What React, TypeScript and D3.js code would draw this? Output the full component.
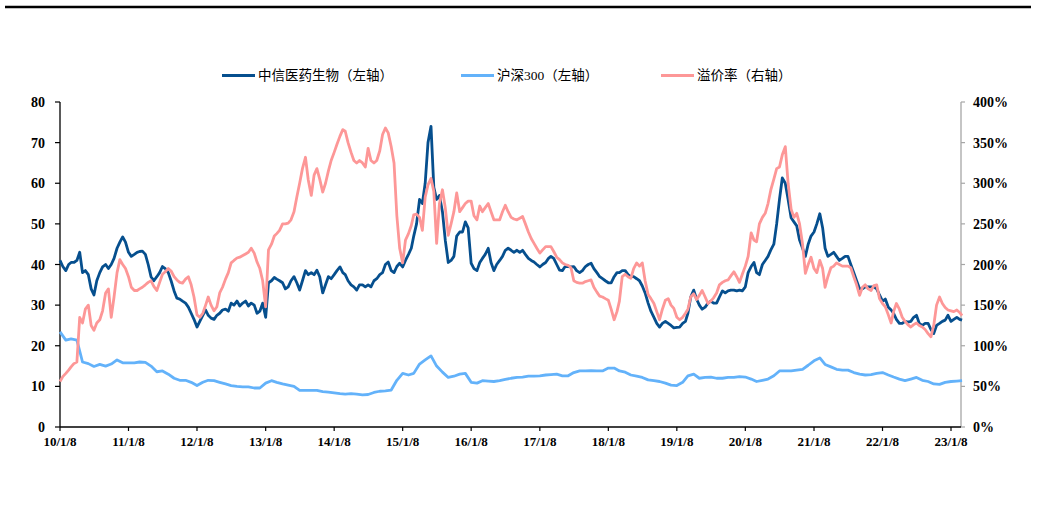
import React from "react";
import * as d3 from "d3";

const W = 1037;
const H = 507;

// x-axis tick labels (Jan 8 each year)
const xTickLabels = ["10/1/8","11/1/8","12/1/8","13/1/8","14/1/8","15/1/8","16/1/8","17/1/8","18/1/8","19/1/8","20/1/8","21/1/8","22/1/8","23/1/8"];
const leftTicks = [0, 10, 20, 30, 40, 50, 60, 70, 80];
const rightTicks = [0, 50, 100, 150, 200, 250, 300, 350, 400];

// 中信医药生物: twice a month (8th, 23rd), Jan 2010 .. Mar 2023
const medValues = [
  41, 39.5, 38.5, 40, 40.5, 40.5, 41, 43, 38, 38.5, 37.5, 34, 32.5, 36, 38, 39.4, 40, 39, 40, 41.5, 44, 45.5, 46.8, 45.5,
  43, 42, 42.5, 43, 43.2, 43.3, 42.5, 40, 37, 36, 37, 38, 39.5, 39, 38, 36, 33.5, 31.7, 31.5, 31, 30.5, 29.5, 28, 26.5,
  24.6, 26, 27.5, 28.8, 27.5, 26.8, 26.5, 27.5, 28, 28.8, 29, 28.5, 30.5, 30, 31, 29.8, 30.5, 31, 29.8, 30.5, 30, 28, 28.5, 30.5,
  27, 35.5, 36, 36.8, 36.4, 36, 35.5, 34, 34.5, 36, 37, 35.5, 33.7, 36, 38.5, 37.5, 38, 37.5, 38.6, 37, 33, 35, 37, 36.5,
  37.5, 38.5, 39.4, 38, 37.5, 36, 35, 34.5, 33.7, 35, 35, 34.5, 35, 34.5, 36, 36.5, 37.5, 38, 40, 40.6, 38.5, 38, 39.5, 40.3,
  39.4, 41, 42.5, 44, 47, 50, 56, 55, 60, 70, 74, 59, 56, 57, 53, 46, 40.5, 41, 42, 47, 48, 48, 50.5, 49,
  40.3, 39, 38.5, 40.5, 41.5, 42.5, 44, 40.5, 38.5, 40, 41, 42, 43.5, 44, 43.5, 43, 43.5, 43, 43.5, 42.5, 41.5, 41, 40.6, 40,
  39.4, 40, 40.5, 41.5, 42, 41.5, 40, 38.6, 38.5, 39.5, 39.5, 39.4, 39.5, 38.5, 38, 38.5, 39.5, 40, 40.3, 39, 38, 37, 36.5, 36,
  35.5, 35.5, 37, 38, 38, 38.5, 38.5, 37.5, 37, 37, 36.5, 36, 34.7, 33, 30.5, 28.5, 27, 25.5, 24.6, 25.5, 26, 25.5, 25, 24.4,
  24.5, 24.6, 25.5, 26, 28, 32, 33.7, 31.5, 30, 29, 29.5, 30.5, 31, 30.5, 30.5, 32, 33.5, 33, 33.5, 33.7, 33.7, 33.5, 33.7, 33.5,
  34.5, 38, 39.5, 40.5, 38, 37.5, 40, 41, 42, 43.6, 45, 50, 56, 61.3, 60, 56, 51.5, 50.5, 49.5, 46, 44, 42, 45, 47,
  48, 50, 52.5, 49, 44, 42, 42.5, 43, 42, 41, 41.5, 42, 42, 40, 38, 36, 34, 34, 34.5, 34.5, 34.5, 34.5, 34, 32.5,
  31, 31.5, 29.5, 28.8, 28, 26.5, 25.5, 25.5, 26, 25.8, 26, 27, 27.5, 25.5, 25, 25.5, 25.5, 24, 23, 25, 25.5, 26, 26.3, 27.5,
  26, 26.5, 27, 26.5, 26.3,
];

// 溢价率 (%): twice a month (8th, 23rd), Jan 2010 .. Mar 2023
const premiumValues = [
  56, 62, 66, 70, 74, 78, 80, 135, 128, 145, 150, 125, 119, 128, 132, 143, 165, 170, 135, 160, 190, 206, 200, 195,
  185, 172, 168, 168, 170, 172, 175, 178, 180, 173, 168, 178, 188, 191, 195, 192, 185, 181, 178, 177, 182, 185, 175, 160,
  138, 135, 140, 150, 160, 150, 143, 148, 165, 172, 182, 190, 202, 205, 208, 209, 211, 213, 215, 220, 214, 203, 195, 180,
  148, 218, 225, 235, 238, 242, 250, 250, 251, 255, 265, 283, 300, 318, 332, 304, 285, 310, 318, 305, 289, 300, 315, 328,
  338, 348, 358, 366, 364, 350, 338, 328, 325, 328, 325, 320, 343, 328, 325, 328, 340, 360, 368, 362, 345, 325, 260, 220,
  202, 230, 238, 248, 261, 262, 258, 242, 283, 298, 306, 290, 226, 275, 292, 270, 236, 250, 265, 288, 265, 270, 275, 278,
  278, 260, 255, 272, 265, 270, 275, 265, 255, 255, 255, 265, 273, 265, 258, 256, 255, 257, 259, 250, 240, 232, 226, 220,
  214, 218, 222, 222, 222, 216, 209, 206, 202, 200, 199, 196, 180, 178, 177, 177, 179, 180, 181, 172, 166, 161, 160, 158,
  156, 145, 132, 142, 155, 185, 188, 185, 183, 195, 202, 198, 202, 180, 163, 158, 152, 142, 132, 145, 156, 158, 150, 146,
  135, 132, 135, 140, 145, 160, 164, 157, 162, 168, 160, 152, 155, 159, 165, 175, 178, 180, 181, 186, 191, 185, 178, 188,
  198, 210, 239, 230, 228, 250, 258, 263, 275, 292, 305, 318, 320, 335, 345, 300, 268, 258, 263, 250, 225, 189, 200, 209,
  195, 190, 205, 195, 172, 185, 196, 198, 202, 200, 198, 198, 198, 196, 185, 175, 162, 172, 175, 170, 168, 174, 175, 158,
  152, 148, 138, 128, 142, 152, 145, 135, 130, 126, 123, 126, 128, 125, 123, 120, 115, 111, 125, 150, 160, 152, 147, 144,
  143, 142, 144, 141, 137,
];

// 沪深300: monthly (8th), Jan 2010 .. Mar 2023
const hs300Values = [
  23.4, 21.4, 21.7, 21.4, 16, 15.6, 14.9, 15.4, 15, 15.5, 16.5, 15.8,
  15.8, 15.8, 16, 15.9, 15, 13.6, 13.8, 13, 12, 11.5, 11.5, 11,
  10.2, 11, 11.5, 11.4, 11, 10.6, 10.2, 10, 9.9, 9.9, 9.6, 9.6,
  10.8, 11.4, 11, 10.6, 10.3, 10, 9, 9, 9, 9, 8.7, 8.6,
  8.4, 8.2, 8.1, 8.2, 8.1, 7.9, 8, 8.5, 8.8, 8.9, 9.1, 11.5,
  13.2, 12.8, 13.2, 15.5, 16.5, 17.5, 15, 13.5, 12.2, 12.5, 13, 13.2,
  11, 10.8, 11.4, 11.3, 11.2, 11.4, 11.7, 12, 12.2, 12.3, 12.5, 12.5,
  12.6, 12.8, 12.9, 13, 12.6, 12.6, 13.4, 13.8, 13.8, 13.9, 13.8, 13.8,
  14.5, 14.5, 13.8, 13.5, 12.8, 12.5, 12.2, 11.6, 11.4, 11.2, 10.8, 10.3,
  10.2, 11, 12.6, 13, 12, 12.2, 12.3, 12, 12, 12.2, 12.2, 12.4,
  12.3, 11.8, 11.2, 11.5, 11.8, 12.6, 13.8, 13.8, 13.8, 14, 14.2, 15.2,
  16.3, 17, 15.4, 14.8, 14.2, 14, 14, 13.4, 13, 12.8, 12.9, 13.2,
  13.4, 12.8, 12.3, 11.8, 11.4, 11.8, 12.2, 11.5, 11.2, 10.6, 10.5, 11,
  11.2, 11.3, 11.4,
];

const seriesNames = ["中信医药生物（左轴）", "沪深300（左轴）", "溢价率（右轴）"];
const seriesColors = ["#064f8e", "#63b2fa", "#fd9797"];

const halfMonthDates = medValues.map((_, i) => new Date(2010, Math.floor(i / 2), i % 2 === 0 ? 8 : 23));
const monthDates = hs300Values.map((_, i) => new Date(2010, i, 8));

export default function App() {
  const x = d3.scaleTime().domain([new Date(2010, 0, 8), new Date(2023, 0, 8)]).range([60, 951]);
  const yL = d3.scaleLinear().domain([0, 80]).range([427, 102]);
  const yR = d3.scaleLinear().domain([0, 400]).range([427, 102]);
  const tickDates = xTickLabels.map((_, i) => new Date(2010 + i, 0, 8));

  const lineMed = d3.line<number>().x((_, i) => x(halfMonthDates[i])).y((d) => yL(d));
  const lineHs = d3.line<number>().x((_, i) => x(monthDates[i])).y((d) => yL(d));
  const linePrem = d3.line<number>().x((_, i) => x(halfMonthDates[i])).y((d) => yR(d));

  const serif = "'Liberation Serif', 'Times New Roman', serif";
  const legendFont = "'Liberation Serif', 'Noto Sans CJK SC', serif";
  const legendX = [222, 461, 661];

  return (
    <svg width={W} height={H} style={{ position: "absolute", left: 0, top: 0, background: "#fff" }}>
      <rect x={0} y={0} width={W} height={H} fill="#fff" />
      <line x1={5} x2={1031} y1={7} y2={7} stroke="#000" strokeWidth={2.5} />

      {/* legend */}
      {seriesNames.map((name, i) => (
        <g key={name}>
          <line x1={legendX[i]} x2={legendX[i] + 33} y1={75.5} y2={75.5} stroke={seriesColors[i]} strokeWidth={3} />
          <text x={legendX[i] + 36} y={80} fontSize={13.5} fontFamily={legendFont} fill="#000">{name}</text>
        </g>
      ))}

      {/* left axis */}
      <line x1={60} x2={60} y1={102} y2={427} stroke="#000" strokeWidth={1.3} />
      {leftTicks.map((t) => (
        <g key={"l" + t}>
          <line x1={55} x2={60} y1={yL(t)} y2={yL(t)} stroke="#000" strokeWidth={1.2} />
          <text x={45} y={yL(t) + 5} textAnchor="end" fontSize={14} fontWeight="bold" fontFamily={serif}>{t}</text>
        </g>
      ))}

      {/* right axis */}
      <line x1={961} x2={961} y1={102} y2={427} stroke="#a6a6a6" strokeWidth={1.3} />
      {rightTicks.map((t) => (
        <g key={"r" + t}>
          <line x1={961} x2={965} y1={yR(t)} y2={yR(t)} stroke="#a6a6a6" strokeWidth={1.2} />
          <text x={973} y={yR(t) + 5} textAnchor="start" fontSize={14} fontWeight="bold" fontFamily={serif}>{t + "%"}</text>
        </g>
      ))}

      {/* bottom axis */}
      <line x1={60} x2={961} y1={427} y2={427} stroke="#000" strokeWidth={1.3} />
      {tickDates.map((d, i) => (
        <g key={"x" + i}>
          <line x1={x(d)} x2={x(d)} y1={427} y2={431} stroke="#000" strokeWidth={1.2} />
          <text x={x(d)} y={446} textAnchor="middle" fontSize={13} fontWeight="bold" fontFamily={serif}>{xTickLabels[i]}</text>
        </g>
      ))}

      {/* series */}
      <path d={lineHs(hs300Values) || ""} fill="none" stroke={seriesColors[1]} strokeWidth={2.8} strokeLinejoin="round" />
      <path d={lineMed(medValues) || ""} fill="none" stroke={seriesColors[0]} strokeWidth={2.8} strokeLinejoin="round" />
      <path d={linePrem(premiumValues) || ""} fill="none" stroke={seriesColors[2]} strokeWidth={2.8} strokeLinejoin="round" />
    </svg>
  );
}
